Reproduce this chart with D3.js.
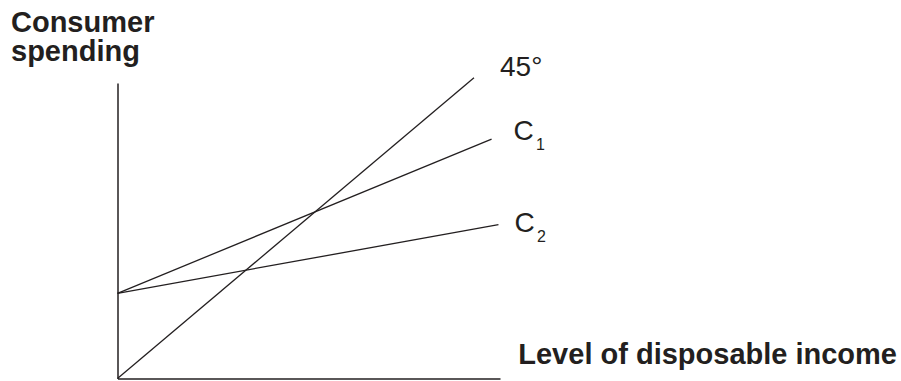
<!DOCTYPE html>
<html>
<head>
<meta charset="utf-8">
<script src="https://cdn.jsdelivr.net/npm/d3@7"></script>
<style>
  html, body { margin: 0; padding: 0; background: #fff; }
  svg { display: block; font-family: "Liberation Sans", Arial, sans-serif; }
</style>
</head>
<body>
<svg id="chart" width="901" height="381"></svg>
<script>
// ---- data ----
const lineNames = ["45°", "C", "C"];
const lineSubs  = ["", "1", "2"];
const xStart = [0, 0, 0];
const yStart = [0, 26.4, 26.4];
const xEnd   = [93.2, 97.8, 99.6];
const yEnd   = [93.2, 74.2, 47.7];
const xDomain = [0, 100];
const yDomain = [0, 91.6];
const yTitle = ["Consumer", "spending"];
const xTitle = "Level of disposable income";

// ---- drawing ----
const ink = "#231f20";
const svg = d3.select("#chart");
const x = d3.scaleLinear().domain(xDomain).range([117.5, 500]);
const y = d3.scaleLinear().domain(yDomain).range([378.5, 83]);

svg.append("g")
  .attr("transform", `translate(0,${y(0)})`)
  .call(d3.axisBottom(x).tickValues([]).tickSizeOuter(0))
  .call(g => g.select(".domain").attr("stroke", ink).attr("stroke-width", 1.5));

svg.append("g")
  .attr("transform", `translate(${x(0)},0)`)
  .call(d3.axisLeft(y).tickValues([]).tickSizeOuter(0))
  .call(g => g.select(".domain").attr("stroke", ink).attr("stroke-width", 1.5));

const lines = lineNames.map((n, i) => ({
  name: n, sub: lineSubs[i],
  pts: [[xStart[i], yStart[i]], [xEnd[i], yEnd[i]]]
}));

const lineGen = d3.line().x(d => x(d[0])).y(d => y(d[1]));

svg.append("g").selectAll("path")
  .data(lines).join("path")
  .attr("d", d => lineGen(d.pts))
  .attr("fill", "none")
  .attr("stroke", ink)
  .attr("stroke-width", 1.3);

// label offsets relative to each line's end point (layout only)
const labelDx = [26, 22, 16];
const labelDy = [-1.5, 0.5, 7.5];

lines.forEach((d, i) => {
  const ex = x(d.pts[1][0]), ey = y(d.pts[1][1]);
  svg.append("text")
    .attr("x", ex + labelDx[i])
    .attr("y", ey + labelDy[i])
    .attr("fill", ink)
    .attr("font-size", 28)
    .text(d.name);
  if (d.sub) {
    svg.append("text")
      .attr("x", ex + labelDx[i] + 22.5)
      .attr("y", ey + labelDy[i] + 10)
      .attr("fill", ink)
      .attr("font-size", 16)
      .text(d.sub);
  }
});

svg.append("text")
  .attr("fill", ink)
  .attr("font-size", 29)
  .attr("font-weight", "bold")
  .selectAll("tspan").data(yTitle).join("tspan")
  .attr("x", 11)
  .attr("y", (d, i) => 32 + i * 29)
  .text(d => d);

svg.append("text")
  .attr("x", 897)
  .attr("y", 364)
  .attr("text-anchor", "end")
  .attr("fill", ink)
  .attr("font-size", 29)
  .attr("font-weight", "bold")
  .text(xTitle);
</script>
</body>
</html>
